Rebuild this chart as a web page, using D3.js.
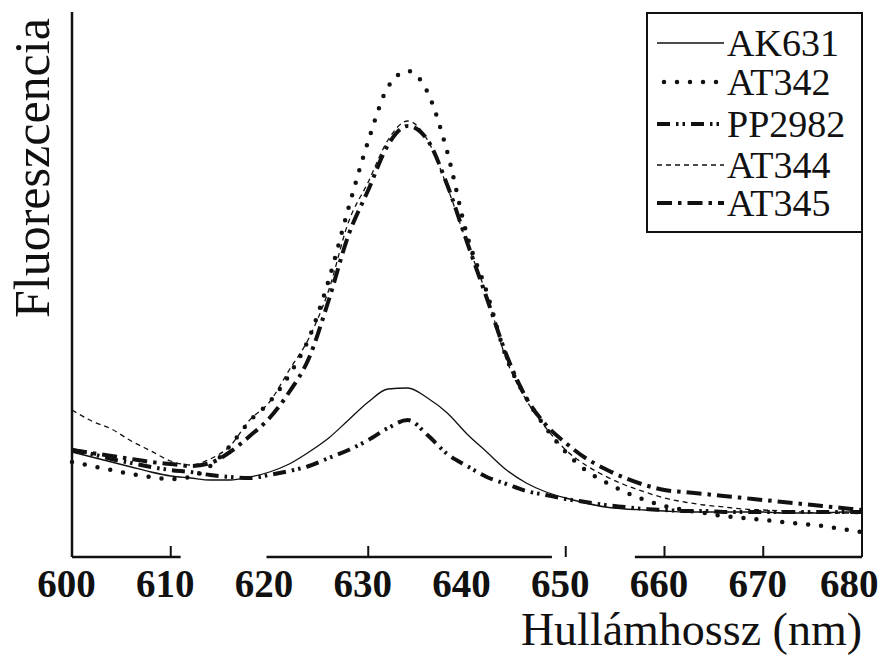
<!DOCTYPE html>
<html lang="hu">
<head>
<meta charset="utf-8">
<title>Fluoreszcencia spektrum</title>
<script src="https://cdn.jsdelivr.net/npm/d3@7"></script>
<style>
  body { margin: 0; background: #fff; }
  svg { display: block; }
  text { font-family: "Liberation Serif", "DejaVu Serif", serif; fill: #111; }
</style>
</head>
<body>
<div id="chart"><svg width="882" height="659"></svg></div>
<script>
// wavelength grid (nm)
var wavelength = [600, 602, 604, 606, 608, 610, 612, 614, 616, 618,
                  620, 622, 624, 626, 628, 630, 632, 634, 636, 638,
                  640, 642, 644, 646, 648, 650, 652, 654, 656, 658,
                  660, 662, 664, 666, 668, 670, 672, 674, 676, 678, 680];

// fluorescence, arbitrary units
var AK631 = [21.0, 20.0, 19.0, 18.0, 17.0, 16.2, 15.8, 15.4, 15.4, 16.0,
             17.0, 18.6, 21.0, 23.8, 27.4, 31.0, 33.6, 33.8, 31.8, 28.8,
             24.6, 21.0, 17.4, 14.8, 13.0, 11.8, 10.8, 10.0, 9.6, 9.4,
             9.2, 9.0, 9.0, 9.0, 9.0, 9.0, 8.8, 8.8, 8.8, 9.0, 9.0];
var AT342 = [19.0, 18.2, 17.4, 16.6, 16.0, 15.6, 16.0, 18.2, 22.2, 27.2,
             31.0, 36.4, 43.8, 55.4, 69.8, 83.2, 94.0, 97.2, 93.0, 81.0,
             64.4, 53.0, 39.8, 31.8, 25.8, 21.0, 17.4, 15.0, 13.0, 11.4,
             10.2, 9.4, 8.8, 8.2, 7.8, 7.4, 7.0, 6.6, 6.2, 5.6, 5.0];
var PP2982 = [21.4, 20.6, 19.6, 18.8, 18.0, 17.4, 17.0, 16.4, 16.0, 15.8,
              16.4, 17.2, 18.2, 19.8, 21.4, 23.4, 25.8, 27.4, 24.4, 20.6,
              18.2, 16.0, 14.6, 13.2, 12.4, 11.6, 11.0, 10.4, 10.0, 9.6,
              9.4, 9.2, 9.2, 9.0, 9.0, 9.0, 9.0, 9.0, 9.0, 9.0, 9.0];
var AT344 = [29.4, 27.2, 25.6, 23.2, 21.2, 19.2, 18.4, 19.6, 22.2, 27.4,
             31.0, 37.4, 43.8, 53.4, 67.0, 75.0, 83.4, 87.2, 83.4, 74.0,
             62.8, 52.4, 39.4, 31.4, 25.8, 21.4, 18.4, 16.2, 14.4, 13.0,
             11.8, 11.0, 10.4, 10.0, 9.6, 9.4, 9.2, 9.0, 8.8, 8.8, 8.6];
var AT345 = [21.4, 20.8, 20.2, 19.6, 19.0, 18.6, 18.2, 18.8, 21.0, 24.2,
             27.8, 33.0, 39.8, 51.4, 64.4, 73.4, 82.4, 86.2, 83.4, 74.4,
             63.0, 51.8, 40.4, 31.8, 26.4, 22.8, 19.8, 17.6, 15.8, 14.4,
             13.4, 13.0, 12.6, 12.2, 11.8, 11.4, 11.0, 10.6, 10.2, 9.8, 9.4];

var seriesNames = ['AK631', 'AT342', 'PP2982', 'AT344', 'AT345'];
var xTicks = [600, 610, 620, 630, 640, 650, 660, 670, 680];
var xTickMarks = [610, 630, 650, 660, 670, 680];
// pieces of the (broken) bottom axis line, in nm
var axisPieces = [[600, 611], [619.7, 648.6], [657, 680]];

var styles = {
  AK631:  { width: 1.3, dash: null,               cap: 'butt'  },
  AT342:  { width: 4.5, dash: '0 13',             cap: 'round' },
  PP2982: { width: 4,   dash: '13 6 2.5 4 2.5 6', cap: 'butt'  },
  AT344:  { width: 1.3, dash: '5 4',              cap: 'butt'  },
  AT345:  { width: 4,   dash: '15 6 3.5 6',       cap: 'butt'  }
};
var values = { AK631: AK631, AT342: AT342, PP2982: PP2982, AT344: AT344, AT345: AT345 };

var svg = d3.select('svg');
var x = d3.scaleLinear().domain([600, 680]).range([72, 862]);
var y = d3.scaleLinear().domain([0, 109]).range([557, 12]);

// curves
var line = d3.line()
    .x(function(d) { return x(d[0]); })
    .y(function(d) { return y(d[1]); })
    .curve(d3.curveMonotoneX);

seriesNames.forEach(function(name) {
    var pts = wavelength.map(function(w, i) { return [w, values[name][i]]; });
    var s = styles[name];
    svg.append('path')
        .datum(pts)
        .attr('d', line)
        .attr('fill', 'none')
        .attr('stroke', '#111')
        .attr('stroke-width', s.width)
        .attr('stroke-linecap', s.cap)
        .attr('stroke-dasharray', s.dash);
});

// y axis (no ticks)
svg.append('line')
    .attr('x1', x(600)).attr('x2', x(600))
    .attr('y1', y(109)).attr('y2', y(0))
    .attr('stroke', '#111').attr('stroke-width', 2.5);

// right frame line
svg.append('line')
    .attr('x1', x(680)).attr('x2', x(680))
    .attr('y1', 177).attr('y2', y(0))
    .attr('stroke', '#111').attr('stroke-width', 2);

// bottom axis pieces
axisPieces.forEach(function(p) {
    svg.append('line')
        .attr('x1', x(p[0])).attr('x2', x(p[1]))
        .attr('y1', y(0)).attr('y2', y(0))
        .attr('stroke', '#111').attr('stroke-width', 2.5);
});
xTickMarks.forEach(function(t) {
    svg.append('line')
        .attr('x1', x(t)).attr('x2', x(t))
        .attr('y1', y(0)).attr('y2', y(0) - 11)
        .attr('stroke', '#111').attr('stroke-width', 2);
});

var xAxis = d3.axisBottom(x).tickValues(xTicks).tickSize(0).tickPadding(0);
var gx = svg.append('g')
    .attr('transform', 'translate(0,' + y(0) + ')')
    .call(xAxis);
gx.select('.domain').remove();
gx.selectAll('text')
    .attr('dy', 40)
    .attr('dx', -6)
    .style('font-family', '"Liberation Serif", serif')
    .style('font-size', '39px')
    .style('font-weight', 'bold')
    .style('fill', '#111');
// last label sits against the right edge
gx.selectAll('text').filter(function(d) { return d === 680; })
    .attr('text-anchor', 'end')
    .attr('dx', 16);

// axis titles
svg.append('text')
    .attr('x', 862).attr('y', 645)
    .attr('text-anchor', 'end')
    .style('font-size', '46px')
    .text('Hullámhossz (nm)');

svg.append('text')
    .attr('transform', 'translate(49,318) rotate(-90)')
    .attr('text-anchor', 'start')
    .style('font-size', '50px')
    .text('Fluoreszcencia');

// legend
var legend = svg.append('g');
legend.append('rect')
    .attr('x', 647).attr('y', 13)
    .attr('width', 215).attr('height', 219)
    .attr('fill', '#fff')
    .attr('stroke', '#111').attr('stroke-width', 2);

var legendRowY = [43, 82, 124, 165, 203];
seriesNames.forEach(function(name, i) {
    var s = styles[name];
    legend.append('line')
        .attr('x1', name === 'AT342' ? 664 : 657).attr('x2', 724)
        .attr('y1', legendRowY[i]).attr('y2', legendRowY[i])
        .attr('stroke', '#111')
        .attr('stroke-width', s.width)
        .attr('stroke-linecap', s.cap)
        .attr('stroke-dasharray', s.dash);
    legend.append('text')
        .attr('x', 727).attr('y', legendRowY[i] + 13)
        .style('font-size', '38px')
        .text(name);
});
</script>
</body>
</html>
